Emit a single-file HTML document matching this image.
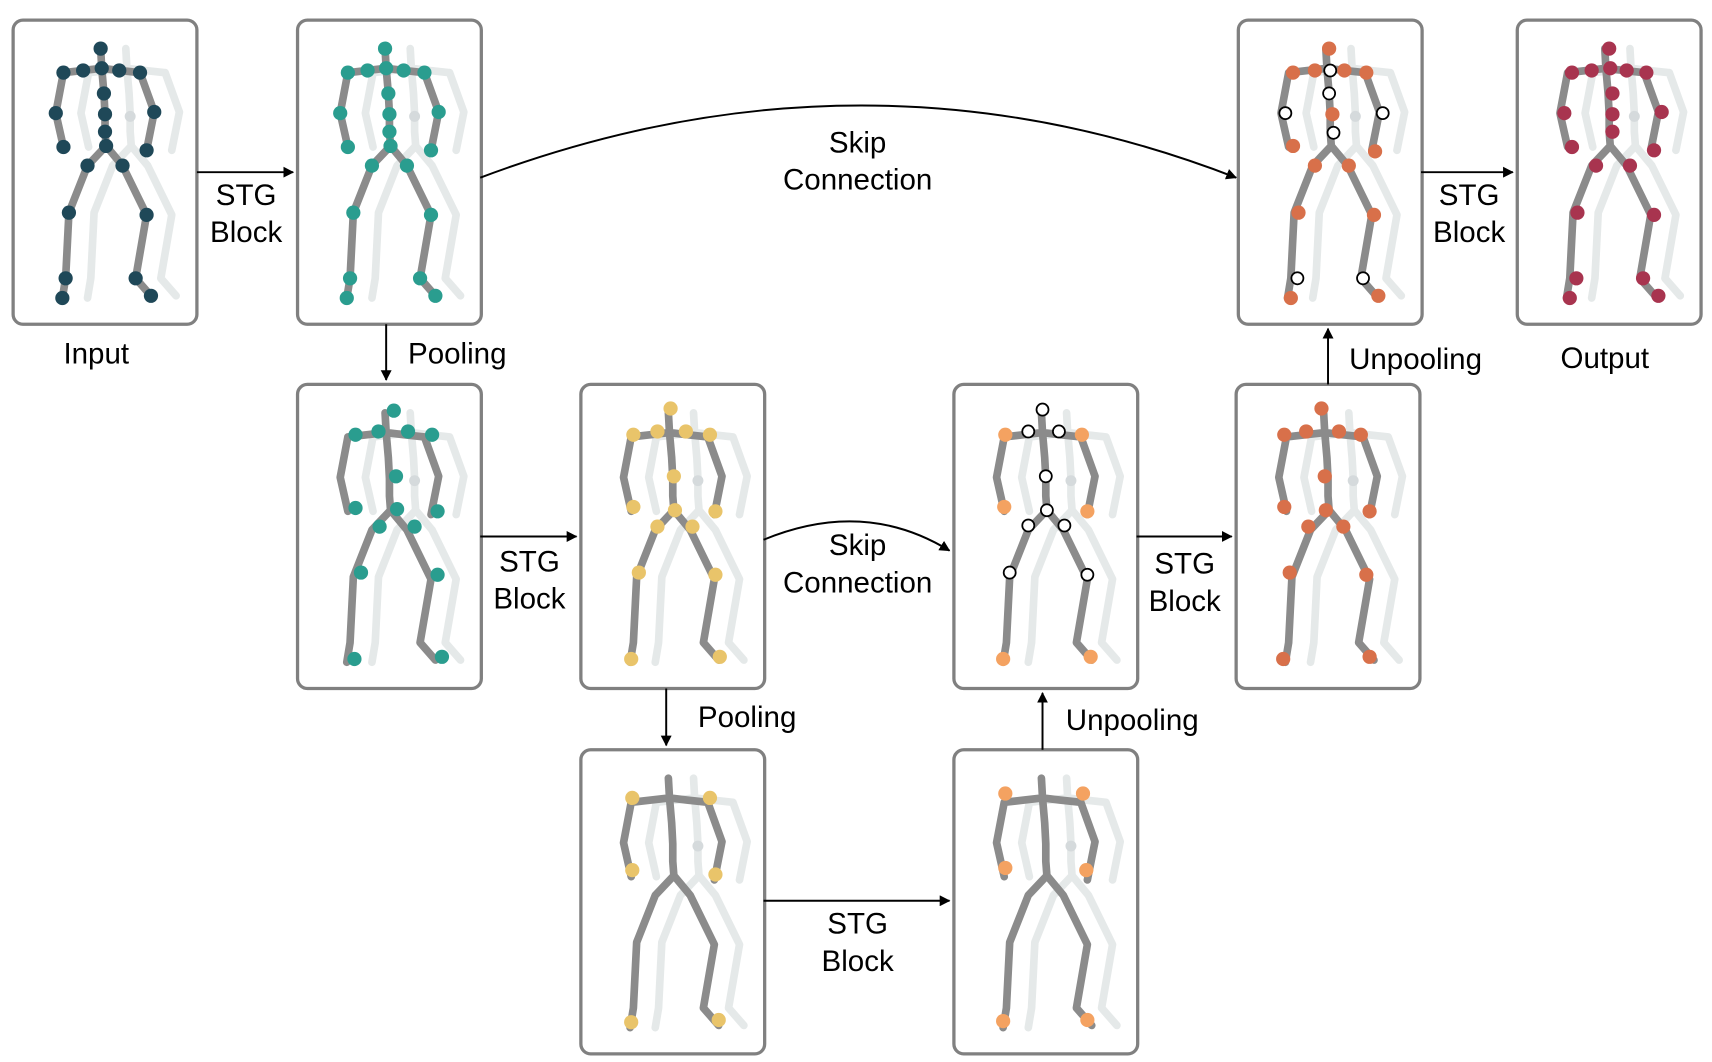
<!DOCTYPE html>
<html><head><meta charset="utf-8"><style>
html,body{margin:0;padding:0;background:#fff;}
svg{display:block}
text{font-family:"Liberation Sans",sans-serif;font-size:27px;fill:#000;text-anchor:middle}
</style></head><body>
<svg width="1712" height="1062" viewBox="0 0 1565 970" xmlns="http://www.w3.org/2000/svg">
<defs>
<marker id="ah" markerWidth="10" markerHeight="10" refX="9" refY="5" orient="auto" markerUnits="userSpaceOnUse"><path d="M0,0 L14,5 L0,10 z" fill="#000" transform="scale(0.7,1)"/></marker>
<g id="lines" fill="none" stroke-linecap="round" stroke-linejoin="round" stroke-width="7">
<path d="M80,26 L81,44 M46,48 L64,46 L81,44 L97,46 L116,48 M46,48 L39,85 L46,116 M116,48 L129,84 L122,119 M81,44 L83,67 L84,86 L84,102 L85,115 M85,115 L68,133 L51,176 L48,236 L45,254 M85,115 L100,133 L122,178 L112,236 L126,252"/>
</g>
<g id="sk">
<use href="#lines" stroke="#e5e9e9" transform="translate(23,0)"/>
<circle cx="107" cy="88" r="5" fill="#d5dadc"/>
<use href="#lines" stroke="#8b8b8b"/>
</g>
<rect id="box" x="0" y="0" width="168" height="278" rx="9" fill="none" stroke="#808080" stroke-width="3"/>
</defs>

<g transform="translate(12,18)"><use href="#box"/><use href="#sk"/>
<g fill="#1f4858">
<circle cx="80" cy="26" r="6.5"/><circle cx="81" cy="44" r="6.5"/><circle cx="46" cy="48" r="6.5"/><circle cx="64" cy="46" r="6.5"/><circle cx="97" cy="46" r="6.5"/><circle cx="116" cy="48" r="6.5"/><circle cx="83" cy="67" r="6.5"/><circle cx="39" cy="85" r="6.5"/><circle cx="129" cy="84" r="6.5"/><circle cx="84" cy="86" r="6.5"/><circle cx="84" cy="102" r="6.5"/><circle cx="46" cy="116" r="6.5"/><circle cx="122" cy="119" r="6.5"/><circle cx="85" cy="115" r="6.5"/><circle cx="68" cy="133" r="6.5"/><circle cx="100" cy="133" r="6.5"/><circle cx="51" cy="176" r="6.5"/><circle cx="122" cy="178" r="6.5"/><circle cx="48" cy="236" r="6.5"/><circle cx="112" cy="236" r="6.5"/><circle cx="45" cy="254" r="6.5"/><circle cx="126" cy="252" r="6.5"/>
</g></g>

<g transform="translate(272,18)"><use href="#box"/><use href="#sk"/>
<g fill="#2a9d8f">
<circle cx="80" cy="26" r="6.5"/><circle cx="81" cy="44" r="6.5"/><circle cx="46" cy="48" r="6.5"/><circle cx="64" cy="46" r="6.5"/><circle cx="97" cy="46" r="6.5"/><circle cx="116" cy="48" r="6.5"/><circle cx="83" cy="67" r="6.5"/><circle cx="39" cy="85" r="6.5"/><circle cx="129" cy="84" r="6.5"/><circle cx="84" cy="86" r="6.5"/><circle cx="84" cy="102" r="6.5"/><circle cx="46" cy="116" r="6.5"/><circle cx="122" cy="119" r="6.5"/><circle cx="85" cy="115" r="6.5"/><circle cx="68" cy="133" r="6.5"/><circle cx="100" cy="133" r="6.5"/><circle cx="51" cy="176" r="6.5"/><circle cx="122" cy="178" r="6.5"/><circle cx="48" cy="236" r="6.5"/><circle cx="112" cy="236" r="6.5"/><circle cx="45" cy="254" r="6.5"/><circle cx="126" cy="252" r="6.5"/>
</g></g>

<g transform="translate(272,351)"><use href="#box"/><use href="#sk"/>
<g fill="#2a9d8f">
<circle cx="88" cy="24" r="6.5"/><circle cx="53" cy="46" r="6.5"/><circle cx="74" cy="43" r="6.5"/><circle cx="101" cy="43" r="6.5"/><circle cx="123" cy="46" r="6.5"/><circle cx="90" cy="84" r="6.5"/><circle cx="53" cy="113" r="6.5"/><circle cx="128" cy="116" r="6.5"/><circle cx="91" cy="114" r="6.5"/><circle cx="75" cy="130" r="6.5"/><circle cx="107" cy="130" r="6.5"/><circle cx="58" cy="172" r="6.5"/><circle cx="128" cy="174" r="6.5"/><circle cx="52" cy="251" r="6.5"/><circle cx="132" cy="249" r="6.5"/>
</g></g>

<g transform="translate(531,351)"><use href="#box"/><use href="#sk"/>
<g fill="#e9c46a">
<circle cx="82" cy="22" r="6.5"/><circle cx="48" cy="46" r="6.5"/><circle cx="70" cy="43" r="6.5"/><circle cx="96" cy="43" r="6.5"/><circle cx="118" cy="46" r="6.5"/><circle cx="85" cy="84" r="6.5"/><circle cx="48" cy="112" r="6.5"/><circle cx="123" cy="116" r="6.5"/><circle cx="86" cy="115" r="6.5"/><circle cx="70" cy="130" r="6.5"/><circle cx="102" cy="130" r="6.5"/><circle cx="53" cy="172" r="6.5"/><circle cx="123" cy="174" r="6.5"/><circle cx="46" cy="251" r="6.5"/><circle cx="127" cy="249" r="6.5"/>
</g></g>

<g transform="translate(531,685)"><use href="#box"/><use href="#sk"/>
<g fill="#e9c46a">
<circle cx="47" cy="44" r="6.5"/><circle cx="118" cy="44" r="6.5"/><circle cx="47" cy="110" r="6.5"/><circle cx="123" cy="114" r="6.5"/><circle cx="46" cy="249" r="6.5"/><circle cx="126" cy="247" r="6.5"/>
</g></g>

<g transform="translate(872,685)"><use href="#box"/><use href="#sk"/>
<g fill="#f4a261">
<circle cx="47" cy="40" r="6.5"/><circle cx="118" cy="40" r="6.5"/><circle cx="47" cy="108" r="6.5"/><circle cx="121" cy="110" r="6.5"/><circle cx="45" cy="248" r="6.5"/><circle cx="122" cy="247" r="6.5"/>
</g></g>

<g transform="translate(872,351)"><use href="#box"/><use href="#sk"/>
<g fill="#f4a261">
<circle cx="47" cy="46" r="6.5"/><circle cx="117" cy="46" r="6.5"/><circle cx="46" cy="112" r="6.5"/><circle cx="122" cy="116" r="6.5"/><circle cx="45" cy="251" r="6.5"/><circle cx="125" cy="249" r="6.5"/>
</g>
<g fill="#fff" stroke="#000" stroke-width="1.6">
<circle cx="81" cy="23" r="5.5"/><circle cx="68" cy="43" r="5.5"/><circle cx="96" cy="43" r="5.5"/><circle cx="84" cy="84" r="5.5"/><circle cx="85" cy="115" r="5.5"/><circle cx="68" cy="129" r="5.5"/><circle cx="101" cy="129" r="5.5"/><circle cx="51" cy="172" r="5.5"/><circle cx="122" cy="174" r="5.5"/>
</g></g>

<g transform="translate(1130,351)"><use href="#box"/><use href="#sk"/>
<g fill="#d8704a">
<circle cx="78" cy="22" r="6.5"/><circle cx="44" cy="46" r="6.5"/><circle cx="64" cy="43" r="6.5"/><circle cx="94" cy="43" r="6.5"/><circle cx="114" cy="46" r="6.5"/><circle cx="81" cy="84" r="6.5"/><circle cx="44" cy="112" r="6.5"/><circle cx="122" cy="116" r="6.5"/><circle cx="82" cy="115" r="6.5"/><circle cx="66" cy="130" r="6.5"/><circle cx="98" cy="130" r="6.5"/><circle cx="49" cy="172" r="6.5"/><circle cx="119" cy="174" r="6.5"/><circle cx="43" cy="251" r="6.5"/><circle cx="122" cy="249" r="6.5"/>
</g></g>

<g transform="translate(1132,18)"><use href="#box"/><use href="#sk"/>
<g fill="#d8704a">
<circle cx="83" cy="26" r="6.5"/><circle cx="50" cy="48" r="6.5"/><circle cx="70" cy="46" r="6.5"/><circle cx="97" cy="46" r="6.5"/><circle cx="117" cy="48" r="6.5"/><circle cx="86" cy="86" r="6.5"/><circle cx="50" cy="115" r="6.5"/><circle cx="125" cy="120" r="6.5"/><circle cx="70" cy="133" r="6.5"/><circle cx="101" cy="133" r="6.5"/><circle cx="55" cy="176" r="6.5"/><circle cx="124" cy="178" r="6.5"/><circle cx="48" cy="254" r="6.5"/><circle cx="128" cy="252" r="6.5"/>
</g>
<g fill="#fff" stroke="#000" stroke-width="1.6">
<circle cx="84" cy="46" r="5.5"/><circle cx="83" cy="67" r="5.5"/><circle cx="43" cy="85" r="5.5"/><circle cx="132" cy="85" r="5.5"/><circle cx="87" cy="103" r="5.5"/><circle cx="54" cy="236" r="5.5"/><circle cx="114" cy="236" r="5.5"/>
</g></g>

<g transform="translate(1387,18)"><use href="#box"/><use href="#sk"/>
<g fill="#a8344f">
<circle cx="84" cy="26" r="6.5"/><circle cx="85" cy="44" r="6.5"/><circle cx="50" cy="48" r="6.5"/><circle cx="68" cy="46" r="6.5"/><circle cx="100" cy="46" r="6.5"/><circle cx="118" cy="48" r="6.5"/><circle cx="87" cy="67" r="6.5"/><circle cx="43" cy="85" r="6.5"/><circle cx="132" cy="84" r="6.5"/><circle cx="87" cy="86" r="6.5"/><circle cx="87" cy="102" r="6.5"/><circle cx="50" cy="116" r="6.5"/><circle cx="125" cy="119" r="6.5"/><circle cx="72" cy="133" r="6.5"/><circle cx="103" cy="133" r="6.5"/><circle cx="55" cy="176" r="6.5"/><circle cx="125" cy="178" r="6.5"/><circle cx="54" cy="236" r="6.5"/><circle cx="115" cy="236" r="6.5"/><circle cx="48" cy="254" r="6.5"/><circle cx="129" cy="252" r="6.5"/>
</g></g>

<g stroke="#000" stroke-width="1.8" fill="none" marker-end="url(#ah)">
<path d="M180,157 L268,157"/>
<path d="M439,162 Q790,30 1130,162"/>
<path d="M353,296 L353,347"/>
<path d="M439,490 L527,490"/>
<path d="M698,493 Q790,455 868,503"/>
<path d="M609,629 L609,681"/>
<path d="M698,823 L868,823"/>
<path d="M953,685 L953,633"/>
<path d="M1039,490 L1126,490"/>
<path d="M1214,351 L1214,300"/>
<path d="M1299,157 L1383,157"/>
</g>

<text x="225" y="187">STG</text><text x="225" y="221">Block</text>
<text x="784" y="139">Skip</text><text x="784" y="173">Connection</text>
<text x="418" y="332">Pooling</text>
<text x="484" y="522">STG</text><text x="484" y="556">Block</text>
<text x="784" y="507">Skip</text><text x="784" y="541">Connection</text>
<text x="683" y="664">Pooling</text>
<text x="784" y="853">STG</text><text x="784" y="887">Block</text>
<text x="1035" y="667">Unpooling</text>
<text x="1083" y="524">STG</text><text x="1083" y="558">Block</text>
<text x="1294" y="337">Unpooling</text>
<text x="1343" y="187">STG</text><text x="1343" y="221">Block</text>
<text x="88" y="332">Input</text>
<text x="1467" y="336">Output</text>
</svg>
</body></html>
